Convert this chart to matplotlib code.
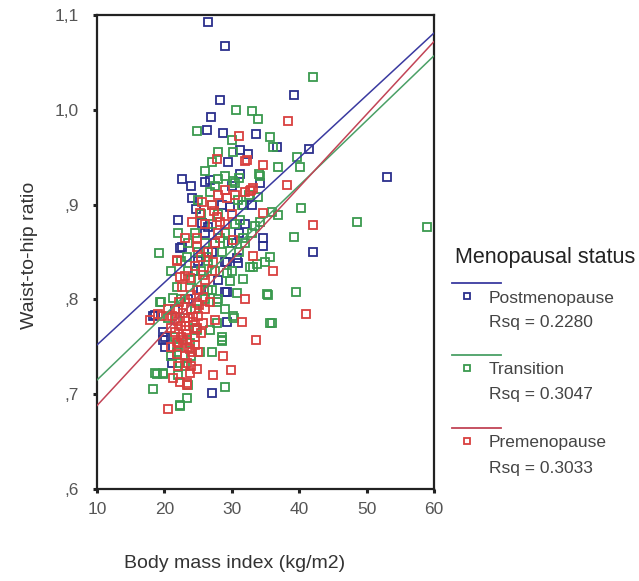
import matplotlib
matplotlib.use("Agg")
import matplotlib.pyplot as plt
from matplotlib.lines import Line2D

plt.rcParams['font.family'] = ['Liberation Sans', 'DejaVu Sans']

groups = ["Postmenopause", "Transition", "Premenopause"]
rsq = ["0.2280", "0.3047", "0.3033"]
point_colors = ["#2b2f8c", "#3a9a4e", "#d9403f"]
line_colors = ["#3a3aa0", "#4aa066", "#c24456"]

# regression lines: fitted value at BMI 10 and BMI 60
fit_x = [10, 60]
fit_y = [[0.752, 1.081], [0.715, 1.057], [0.688, 1.072]]

post_bmi = [26.5, 29.0, 28.2, 26.9, 26.3, 28.7, 33.6, 39.2, 41.5, 53.0, 42.0, 36.7, 31.2, 32.4,
            22.6, 26.0, 31.2, 34.2, 24.1, 24.7, 22.0, 34.6, 34.6, 30.8, 29.3, 22.3, 18.3, 20.1,
            20.1, 21.1, 27.1, 29.3, 29.3, 30.9, 26.8, 25.6, 29.7, 26.5, 22.6, 31.7, 33.0, 29.0,
            29.0, 18.6, 19.8, 19.8, 27.5, 25.0, 28.0, 23.5, 26.0, 30.0, 24.5, 27.0, 32.0, 21.5,
            25.5, 31.0, 28.5, 24.0, 30.0, 29.5]
post_whr = [1.093, 1.067, 1.010, 0.992, 0.979, 0.976, 0.974, 1.016, 0.959, 0.929, 0.850, 0.961, 0.958, 0.953,
            0.927, 0.924, 0.932, 0.923, 0.907, 0.895, 0.884, 0.865, 0.856, 0.844, 0.839, 0.854, 0.782, 0.760,
            0.750, 0.733, 0.701, 0.776, 0.808, 0.838, 0.926, 0.881, 0.897, 0.876, 0.855, 0.900, 0.900, 0.839,
            0.808, 0.784, 0.766, 0.757, 0.860, 0.840, 0.820, 0.800, 0.870, 0.860, 0.830, 0.850, 0.880, 0.790,
            0.810, 0.870, 0.900, 0.920, 0.920, 0.945]

trans_bmi = [42.0, 30.6, 33.0, 33.9, 24.8, 30.0, 35.7, 30.2, 36.9, 39.7, 40.1, 34.2, 48.6, 59.0,
             40.3, 36.9, 36.0, 39.2, 19.2, 35.7, 33.2, 35.4, 39.5, 36.0, 28.5, 28.5, 30.3, 27.1,
             29.0, 18.3, 18.9, 19.8, 22.3, 23.4, 19.5, 28.0, 29.0, 30.2, 31.0, 27.5, 26.8, 22.0,
             28.3, 36.1, 30.5, 34.0, 30.9, 33.9, 33.4, 34.2, 31.2, 31.7, 23.4, 26.3, 29.3, 21.9,
             26.5, 29.7, 19.3, 21.3, 27.8, 27.8, 24.8, 26.8, 23.4, 28.5, 32.7, 33.7, 34.9, 31.7,
             30.8, 35.2, 30.2, 35.7, 23.8, 21.9, 25.3, 18.6, 19.8, 22.3, 22.3, 22.5, 24.0, 25.0,
             26.0, 27.0, 28.0, 29.0, 23.0, 24.5, 21.5, 22.0, 23.0, 24.0, 25.5, 26.5, 27.5, 28.5,
             29.5, 30.5, 31.5, 32.5, 27.0, 25.5, 24.5, 23.5, 22.5, 21.0, 20.5, 21.0, 22.0, 23.5,
             26.0, 27.0, 28.0, 29.0, 30.0, 31.0, 32.0, 33.0, 26.0, 27.0, 28.0, 25.0, 23.5, 24.5]
trans_whr = [1.035, 1.000, 0.999, 0.990, 0.978, 0.968, 0.971, 0.956, 0.940, 0.950, 0.940, 0.930, 0.882, 0.876,
             0.896, 0.889, 0.892, 0.866, 0.849, 0.845, 0.834, 0.805, 0.808, 0.775, 0.760, 0.756, 0.780, 0.745,
             0.708, 0.706, 0.721, 0.721, 0.689, 0.696, 0.797, 0.927, 0.930, 0.925, 0.928, 0.920, 0.913, 0.870,
             0.865, 0.961, 0.923, 0.932, 0.905, 0.908, 0.877, 0.882, 0.884, 0.865, 0.845, 0.845, 0.828, 0.813,
             0.810, 0.819, 0.797, 0.802, 0.797, 0.775, 0.768, 0.768, 0.757, 0.757, 0.834, 0.837, 0.839, 0.821,
             0.807, 0.806, 0.782, 0.775, 0.754, 0.744, 0.744, 0.722, 0.722, 0.733, 0.688, 0.800, 0.820, 0.850,
             0.860, 0.880, 0.890, 0.870, 0.780, 0.790, 0.760, 0.750, 0.730, 0.740, 0.830, 0.840, 0.830, 0.850,
             0.860, 0.880, 0.900, 0.910, 0.900, 0.890, 0.870, 0.860, 0.840, 0.830, 0.780, 0.740, 0.720, 0.710,
             0.800, 0.810, 0.800, 0.790, 0.830, 0.850, 0.860, 0.870, 0.935, 0.945, 0.955, 0.905, 0.830, 0.770]

pre_bmi = [38.3, 27.8, 31.1, 32.0, 34.6, 38.2, 32.8, 32.0, 34.6, 42.0, 33.1, 36.1, 32.0, 33.6,
           41.0, 31.5, 27.5, 28.7, 27.2, 29.9, 23.4, 20.5, 21.9, 25.6, 29.3, 25.3, 27.8, 27.3,
           28.3, 24.1, 23.1, 24.8, 32.3, 32.7, 33.2, 30.2, 21.9, 24.8, 22.3, 23.8, 25.7, 27.2,
           24.8, 22.6, 24.8, 26.8, 19.6, 21.1, 22.8, 23.5, 24.3, 25.0, 25.7, 23.0, 24.0, 22.0,
           24.8, 21.6, 23.4, 21.9, 22.0, 24.1, 23.8, 24.8, 21.3, 22.3, 23.4, 17.9, 19.0, 21.0,
           22.5, 23.5, 24.5, 25.5, 22.0, 23.0, 24.0, 25.0, 26.0, 27.0, 26.5, 27.5, 28.0, 29.0,
           30.0, 23.0, 22.0, 24.0, 21.0, 20.5, 26.0, 25.0, 23.0, 24.5, 25.5, 26.0, 27.0, 28.0,
           29.0, 30.5, 21.5, 22.4, 23.2, 24.2, 25.2, 22.8, 23.8, 21.8, 24.6, 23.3, 22.1, 25.8]
pre_whr = [0.988, 0.948, 0.972, 0.946, 0.942, 0.921, 0.915, 0.913, 0.891, 0.878, 0.846, 0.830, 0.800, 0.757,
           0.785, 0.776, 0.778, 0.740, 0.720, 0.725, 0.710, 0.684, 0.841, 0.903, 0.907, 0.891, 0.887, 0.893,
           0.882, 0.882, 0.865, 0.865, 0.947, 0.914, 0.918, 0.863, 0.842, 0.855, 0.824, 0.823, 0.826, 0.839,
           0.810, 0.813, 0.796, 0.797, 0.782, 0.782, 0.786, 0.780, 0.776, 0.783, 0.775, 0.772, 0.790, 0.777,
           0.770, 0.766, 0.763, 0.755, 0.754, 0.744, 0.722, 0.727, 0.717, 0.713, 0.712, 0.778, 0.785, 0.770,
           0.760, 0.750, 0.760, 0.765, 0.790, 0.800, 0.805, 0.810, 0.820, 0.830, 0.850, 0.860, 0.870, 0.880,
           0.890, 0.740, 0.730, 0.730, 0.750, 0.790, 0.790, 0.745, 0.825, 0.835, 0.845, 0.880, 0.900, 0.910,
           0.915, 0.910, 0.779, 0.772, 0.768, 0.781, 0.794, 0.757, 0.748, 0.742, 0.752, 0.733, 0.797, 0.803]

x_ticks = [10, 20, 30, 40, 50, 60]
y_ticks = [0.6, 0.7, 0.8, 0.9, 1.0, 1.1]
y_tick_labels = [",6", ",7", ",8", ",9", "1,0", "1,1"]

W, H = 639, 581
fig = plt.figure(figsize=(W / 100, H / 100), dpi=100)
ax = fig.add_axes([97 / W, 1 - 489 / H, (434 - 97) / W, (489 - 15) / H])

data = [(post_bmi, post_whr), (trans_bmi, trans_whr), (pre_bmi, pre_whr)]
for i in [0, 1, 2]:
    xs, ys = data[i]
    ax.plot(xs, ys, linestyle="none", marker="s", markersize=6.0, markerfacecolor="none",
            markeredgecolor=point_colors[i], markeredgewidth=1.3, zorder=2 + i * 0.1)
for i in [0, 1, 2]:
    ax.plot(fit_x, fit_y[i], color=line_colors[i], linewidth=1.1, zorder=4)

ax.set_xlim(10, 60)
ax.set_ylim(0.6, 1.1)
ax.set_xticks(x_ticks)
ax.set_yticks(y_ticks)
ax.set_yticklabels(y_tick_labels)
for s in ax.spines.values():
    s.set_linewidth(1.6)
    s.set_color("#222222")
ax.tick_params(direction="out", length=3, width=2.2, colors="#222222",
               labelcolor="#555555", labelsize=12.5)
ax.tick_params(axis="y", pad=10)
ax.tick_params(axis="x", pad=6)

fig.text(30 / W, 1 - 255 / H, "Waist-to-hip ratio", rotation=90, ha="center", va="center",
         fontsize=14, color="#333333")
fig.text(235 / W, 1 - 563 / H, "Body mass index (kg/m2)", ha="center", va="center",
         fontsize=14, color="#333333")

# legend
fig.text(455 / W, 1 - 258 / H, "Menopausal status", ha="left", va="center", fontsize=15.5, color="#222222")
line_y = [283, 355, 428]
for i in range(3):
    ly = line_y[i]
    fig.add_artist(Line2D([452 / W, 501 / W], [1 - ly / H, 1 - ly / H], color=line_colors[i],
                          linewidth=1.3, transform=fig.transFigure))
    fig.add_artist(Line2D([467 / W], [1 - (ly + 13) / H], marker="s", markersize=4.5,
                          markerfacecolor="none", markeredgecolor=point_colors[i],
                          markeredgewidth=1.3, linestyle="none", transform=fig.transFigure))
    fig.text(489 / W, 1 - (ly + 15) / H, groups[i], ha="left", va="center", fontsize=12.5, color="#444444")
    fig.text(489 / W, 1 - (ly + 40) / H, "Rsq = " + rsq[i], ha="left", va="center", fontsize=12.5,
             color="#444444")

fig.savefig("out.png", dpi=100, facecolor="white")
